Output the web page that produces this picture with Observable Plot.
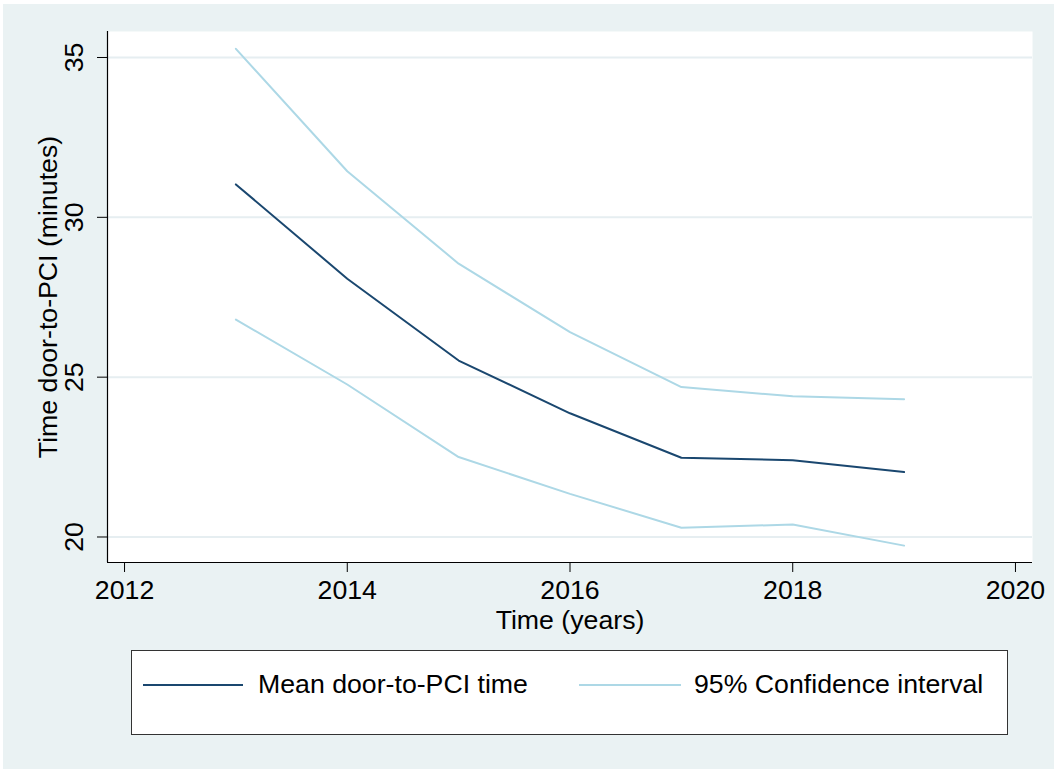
<!DOCTYPE html>
<html>
<head>
<meta charset="utf-8">
<script src="https://cdn.jsdelivr.net/npm/d3@7"></script>
<script src="https://cdn.jsdelivr.net/npm/@observablehq/plot@0.6"></script>
<style>
  html, body { margin: 0; padding: 0; background: #ffffff; }
  body { width: 1058px; height: 771px; position: relative; overflow: hidden;
         font-family: "Liberation Sans", Arial, Helvetica, sans-serif; }
  #bg { position: absolute; left: 3px; top: 4px; width: 1051px; height: 765px; background: #eaf2f3; }
  #chart { position: absolute; left: 0; top: 0; }
  #legend { position: absolute; left: 131px; top: 650px; width: 875px; height: 83px;
            background: #ffffff; border: 1.5px solid #333333; }
  .swatch { position: absolute; top: 33px; height: 2px; }
  .label { position: absolute; top: 18px; font-size: 26.7px; color: #000; white-space: nowrap; line-height: 30px; }
</style>
</head>
<body>
<div id="bg"></div>
<div id="chart"></div>
<div id="legend">
  <div class="swatch" style="left:11px;width:100px;background:#1a476f"></div>
  <div class="label" style="left:126px">Mean door-to-PCI time</div>
  <div class="swatch" style="left:447px;width:102px;background:#add8e6"></div>
  <div class="label" style="left:562px">95% Confidence interval</div>
</div>
<script>
// ---- data ----
const years = [2013, 2014, 2015, 2016, 2017, 2018, 2019];
const meanTime = [31.03, 28.08, 25.52, 23.87, 22.48, 22.40, 22.03];
const upperCI = [35.27, 31.44, 28.55, 26.41, 24.69, 24.40, 24.31];
const lowerCI = [26.80, 24.77, 22.50, 21.35, 20.29, 20.39, 19.73];
const xTicks = [2012, 2014, 2016, 2018, 2020];
const yTicks = [20, 25, 30, 35];
const xTitle = "Time (years)";
const yTitle = "Time door-to-PCI (minutes)";

const series = [
  ...years.map((year, i) => ({year, value: upperCI[i], series: "upper"})),
  ...years.map((year, i) => ({year, value: lowerCI[i], series: "lower"})),
  ...years.map((year, i) => ({year, value: meanTime[i], series: "mean"}))
];

const xDomain = [2011.847, 2020.153];
const yDomain = [19.202, 35.813];

const chart = Plot.plot({
  width: 1058,
  height: 640,
  marginLeft: 107,
  marginRight: 26,
  marginTop: 31,
  marginBottom: 78,
  style: {fontSize: "26.7px", fontFamily: "'Liberation Sans', Arial, Helvetica, sans-serif", background: "transparent", color: "#000"},
  x: {domain: xDomain},
  y: {domain: yDomain},
  marks: [
    Plot.frame({fill: "#ffffff", stroke: null}),
    Plot.gridY(yTicks, {stroke: "#e6eef1", strokeOpacity: 1, strokeWidth: 2}),
    Plot.line(series.filter(d => d.series === "upper"), {x: "year", y: "value", stroke: "#add8e6", strokeWidth: 2}),
    Plot.line(series.filter(d => d.series === "lower"), {x: "year", y: "value", stroke: "#add8e6", strokeWidth: 2}),
    Plot.line(series.filter(d => d.series === "mean"), {x: "year", y: "value", stroke: "#1a476f", strokeWidth: 2}),
    Plot.axisX(xTicks, {tickSize: 10, tickPadding: 8, tickFormat: d => String(d), label: null, stroke: "#000"}),
    Plot.axisY(yTicks, {tickSize: 10, text: null, label: null, stroke: "#000"}),
    Plot.text(yTicks, {y: d => d, text: d => String(d), frameAnchor: "left", dx: -25, rotate: -90,
                       textAnchor: "middle", lineAnchor: "bottom", fill: "#000"}),
    Plot.ruleX([xDomain[0]], {stroke: "#000", strokeWidth: 1.2}),
    Plot.ruleY([yDomain[0]], {stroke: "#000", strokeWidth: 1.2}),
    Plot.text([xTitle], {frameAnchor: "bottom", dy: 66, lineAnchor: "bottom", text: d => d, fill: "#000"}),
    Plot.text([yTitle], {frameAnchor: "left", dx: -59, rotate: -90, lineAnchor: "middle",
                         textAnchor: "middle", text: d => d, fill: "#000"})
  ]
});
document.getElementById("chart").appendChild(chart);
</script>
</body>
</html>
